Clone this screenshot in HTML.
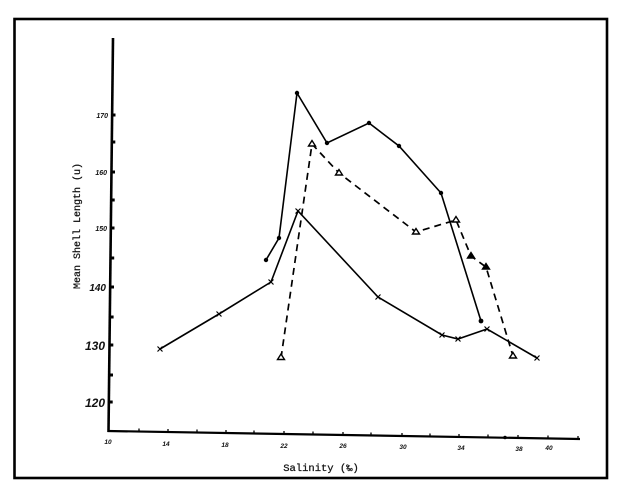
<!DOCTYPE html>
<html><head><meta charset="utf-8"><style>
html,body{margin:0;padding:0;background:#fff;}
svg{display:block;}
.tl{font-family:"Liberation Sans",sans-serif;font-style:italic;font-weight:bold;fill:#111;}
.mono{font-family:"Liberation Mono",monospace;fill:#111;stroke:#111;stroke-width:0.25;}
</style></head><body>
<svg width="627" height="500" viewBox="0 0 627 500" xmlns="http://www.w3.org/2000/svg">
<rect x="0" y="0" width="627" height="500" fill="#fff"/>
<!-- frame -->
<rect x="14.5" y="19" width="592.5" height="459" fill="none" stroke="#000" stroke-width="2.6"/>
<!-- y axis -->
<line x1="113" y1="38" x2="108.5" y2="432" stroke="#000" stroke-width="2.6"/>
<!-- x axis -->
<line x1="107.5" y1="431" x2="580" y2="439" stroke="#000" stroke-width="2.2"/>
<!-- y ticks -->
<g fill="#000">
<rect x="111.5" y="113.5" width="4" height="3"/>
<rect x="111.3" y="140.5" width="4" height="3"/>
<rect x="111" y="170.5" width="4" height="3"/>
<rect x="110.7" y="198.5" width="4" height="3"/>
<rect x="110.5" y="226.5" width="4" height="3"/>
<rect x="110.2" y="256.5" width="4" height="3"/>
<rect x="110" y="285.5" width="4" height="3"/>
<rect x="109.6" y="315.5" width="4" height="3"/>
<rect x="109.3" y="343.5" width="4" height="3"/>
<rect x="109" y="373.5" width="4" height="3"/>
<rect x="108.7" y="400.5" width="4" height="3"/>
</g>
<!-- y tick labels -->
<text class="tl" x="108" y="118" font-size="7" text-anchor="end">170</text>
<text class="tl" x="107" y="175" font-size="7" text-anchor="end">160</text>
<text class="tl" x="107" y="231" font-size="7" text-anchor="end">150</text>
<text class="tl" x="106" y="291" font-size="10" text-anchor="end">140</text>
<text class="tl" x="105" y="350" font-size="12" text-anchor="end">130</text>
<text class="tl" x="105" y="407" font-size="12" text-anchor="end">120</text>
<!-- y axis label -->
<text class="mono" x="0" y="0" font-size="10" text-anchor="middle" transform="translate(80,226) rotate(-90)">Mean Shell Length (u)</text>
<!-- x ticks -->
<g stroke="#000" stroke-width="1.3">
<line x1="139" y1="432" x2="139" y2="428.5"/>
<line x1="168" y1="432.5" x2="168" y2="429"/>
<line x1="197" y1="433" x2="197" y2="429.5"/>
<line x1="226" y1="433.5" x2="226" y2="430"/>
<line x1="254" y1="434" x2="254" y2="430.5"/>
<line x1="284" y1="434.5" x2="284" y2="431"/>
<line x1="313" y1="435" x2="313" y2="431.5"/>
<line x1="343" y1="435.5" x2="343" y2="432"/>
<line x1="371" y1="436" x2="371" y2="432.5"/>
<line x1="402" y1="436.5" x2="402" y2="433"/>
<line x1="430" y1="437" x2="430" y2="433.5"/>
<line x1="459" y1="437.5" x2="459" y2="434"/>
<line x1="488" y1="438" x2="488" y2="434.5"/>
<line x1="518" y1="438.5" x2="518" y2="435"/>
<line x1="548" y1="439" x2="548" y2="435.5"/>
<line x1="578" y1="439.5" x2="578" y2="436"/>
</g>
<circle cx="505" cy="437.5" r="1.8" fill="#000"/>
<!-- x tick labels -->
<g class="tl" font-size="6.5" text-anchor="middle">
<text x="108" y="444">10</text>
<text x="166" y="446">14</text>
<text x="225" y="447">18</text>
<text x="284" y="448">22</text>
<text x="343" y="448">26</text>
<text x="403" y="449">30</text>
<text x="461" y="450">34</text>
<text x="519" y="451">38</text>
<text x="549" y="450">40</text>
</g>
<!-- x axis label -->
<text class="mono" x="321" y="471" font-size="10.5" text-anchor="middle">Salinity (‰)</text>

<!-- series: dots (solid) -->
<polyline points="266,260 279,238 297,93 327,143 369,123 399,146 441,193 481,321" fill="none" stroke="#000" stroke-width="1.6" stroke-linejoin="miter"/>
<g fill="#000">
<circle cx="266" cy="260" r="2.2"/><circle cx="279" cy="238" r="2.2"/><circle cx="297" cy="93" r="2.2"/>
<circle cx="327" cy="143" r="2.2"/><circle cx="369" cy="123" r="2.2"/><circle cx="399" cy="146" r="2.2"/>
<circle cx="441" cy="193" r="2.2"/><circle cx="481" cy="321" r="2.4"/>
</g>

<!-- series: triangles (dashed) -->
<polyline points="281,358 312,144 339,173 416,232 456,220 471,256 486,267 513,356" fill="none" stroke="#000" stroke-width="1.7" stroke-dasharray="7,5"/>
<g fill="#fff" stroke="#000" stroke-width="1.4">
<polygon points="281,354 277.5,359.5 284.5,359.5"/>
<polygon points="312,140.5 308.5,146 315.5,146"/>
<polygon points="339,169.5 335.5,175 342.5,175"/>
<polygon points="416,228.5 412.5,234 419.5,234"/>
<polygon points="456,216.5 452.5,222 459.5,222"/>
<polygon points="471,252.5 467.5,258 474.5,258" fill="#000"/>
<polygon points="486,263.5 482.5,269 489.5,269" fill="#000"/>
<polygon points="513,352.5 509.5,358 516.5,358"/>
</g>

<!-- series: x marks (solid) -->
<polyline points="160,349 219,314 271,282 298,211 378,297 442,335 458,339 487,329 537,358" fill="none" stroke="#000" stroke-width="1.6"/>
<g stroke="#000" stroke-width="1.2">
<path d="M157.5,346.5 L162.5,351.5 M162.5,346.5 L157.5,351.5"/>
<path d="M216.5,311.5 L221.5,316.5 M221.5,311.5 L216.5,316.5"/>
<path d="M268.5,279.5 L273.5,284.5 M273.5,279.5 L268.5,284.5"/>
<path d="M295.5,208.5 L300.5,213.5 M300.5,208.5 L295.5,213.5"/>
<path d="M375.5,294.5 L380.5,299.5 M380.5,294.5 L375.5,299.5"/>
<path d="M439.5,332.5 L444.5,337.5 M444.5,332.5 L439.5,337.5"/>
<path d="M455.5,336.5 L460.5,341.5 M460.5,336.5 L455.5,341.5"/>
<path d="M484.5,326.5 L489.5,331.5 M489.5,326.5 L484.5,331.5"/>
<path d="M534.5,355.5 L539.5,360.5 M539.5,355.5 L534.5,360.5"/>
</g>
</svg>
</body></html>
